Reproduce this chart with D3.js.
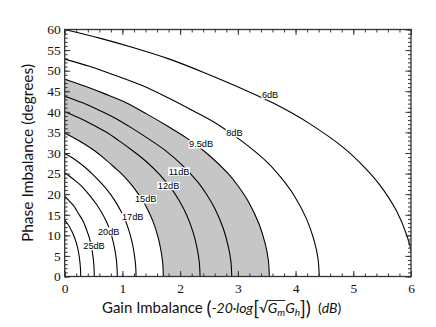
<!DOCTYPE html>
<html><head><meta charset="utf-8">
<script src="https://cdn.jsdelivr.net/npm/d3@7"></script>
<style>body{margin:0;background:#fff}</style>
</head><body>
<svg id="c" width="436" height="327"></svg>
<script>
// Contour curves: [gain imbalance dB, phase imbalance deg]
const curve6dB  = [[0,60],[0.605,57.9],[1.21,55.5],[1.815,52.8],[2.42,49.5],[3.025,45.9],[3.63,42.0],[4.235,37.2],[4.84,31.2],[5.14,27.3],[5.445,22.5],[5.75,15.9],[5.93,9.9],[6.02,5.0],[6.05,0]];
const curve8dB  = [[0,52.8],[0.441,51.0],[0.882,48.8],[1.323,46.5],[1.764,43.6],[2.205,40.4],[2.646,37.0],[3.087,32.7],[3.528,27.5],[3.749,24.0],[3.969,19.8],[4.19,14.0],[4.322,8.7],[4.388,4.4],[4.41,0]];
const curve9p5dB= [[0,47.9],[0.355,46.2],[0.709,44.3],[1.064,42.2],[1.418,39.5],[1.773,36.6],[2.128,33.5],[2.482,29.7],[2.837,24.9],[3.014,21.8],[3.191,18.0],[3.369,12.7],[3.475,7.9],[3.528,4.0],[3.546,0]];
const curve11dB = [[0,43.8],[0.289,42.3],[0.579,40.5],[0.868,38.5],[1.158,36.1],[1.447,33.5],[1.736,30.7],[2.026,27.2],[2.315,22.8],[2.46,19.9],[2.605,16.4],[2.749,11.6],[2.836,7.2],[2.88,3.6],[2.894,0]];
const curve12dB = [[0,40.0],[0.235,38.6],[0.469,37.0],[0.704,35.2],[0.938,33.0],[1.173,30.6],[1.407,28.0],[1.642,24.8],[1.876,20.8],[1.993,18.2],[2.111,15.0],[2.228,10.6],[2.298,6.6],[2.333,3.3],[2.345,0]];
const curve15dB = [[0,34.8],[0.171,33.6],[0.342,32.2],[0.513,30.6],[0.684,28.7],[0.855,26.6],[1.025,24.4],[1.196,21.6],[1.367,18.1],[1.453,15.8],[1.538,13.1],[1.624,9.2],[1.675,5.7],[1.70,2.9],[1.709,0]];
const curve17dB = [[0,29.9],[0.124,28.9],[0.247,27.7],[0.371,26.3],[0.494,24.7],[0.618,22.9],[0.742,20.9],[0.865,18.5],[0.989,15.5],[1.051,13.6],[1.112,11.2],[1.174,7.9],[1.211,4.9],[1.23,2.5],[1.236,0]];
const curve20dB = [[0,25.2],[0.091,24.3],[0.182,23.3],[0.274,22.2],[0.365,20.8],[0.456,19.3],[0.547,17.6],[0.638,15.6],[0.73,13.1],[0.775,11.5],[0.821,9.5],[0.866,6.7],[0.894,4.2],[0.907,2.1],[0.912,0]];
const curve25dB = [[0,19.5],[0.051,18.8],[0.103,18.0],[0.154,17.2],[0.205,16.1],[0.257,14.9],[0.308,13.7],[0.359,12.1],[0.41,10.1],[0.436,8.9],[0.462,7.3],[0.487,5.2],[0.503,3.2],[0.51,1.6],[0.513,0]];
const curveInner= [[0,13.7],[0.028,13.2],[0.055,12.7],[0.083,12.1],[0.111,11.3],[0.139,10.5],[0.166,9.6],[0.194,8.5],[0.222,7.1],[0.235,6.2],[0.249,5.1],[0.263,3.6],[0.271,2.3],[0.276,1.1],[0.277,0]];

const contourLabels = ["6dB","8dB","9.5dB","11dB","12dB","15dB","17dB","20dB","25dB"];
const labelX = [3.558,2.94,2.362,1.981,1.80,1.404,1.178,0.763,0.508];
const labelY = [44.1,34.8,32.1,25.5,22.0,18.75,14.45,10.9,7.4];

const xTicks = [0,1,2,3,4,5,6];
const yTicks = [0,5,10,15,20,25,30,35,40,45,50,55,60];

const svg = d3.select("#c");
const L = 64.7, R = 411, T = 29.5, B = 276.5;
const x = d3.scaleLinear().domain([0,6]).range([L,R]);
const y = d3.scaleLinear().domain([0,60]).range([B,T]);

svg.append("defs").append("clipPath").attr("id","plotclip")
  .append("rect").attr("x",L).attr("y",T).attr("width",R-L).attr("height",B-T);

const line = d3.line().x(d=>x(d[0])).y(d=>y(d[1])).curve(d3.curveCatmullRom.alpha(0.5));
const plot = svg.append("g").attr("clip-path","url(#plotclip)");

// gray band between 9.5dB and 15dB
const outer = line(curve9p5dB);
const inner = line(curve15dB.slice().reverse()).replace(/^M/,"L");
plot.append("path").attr("d", outer + inner + "Z").attr("fill","#c6c6c6").attr("stroke","none");

const curves = [curve6dB,curve8dB,curve9p5dB,curve11dB,curve12dB,curve15dB,curve17dB,curve20dB,curve25dB,curveInner];
plot.selectAll("path.curve").data(curves).enter().append("path")
  .attr("class","curve").attr("d", d=>line(d))
  .attr("fill","none").attr("stroke","#000").attr("stroke-width",1.1);

// labels with white background
const lg = svg.append("g");
contourLabels.forEach((t,i)=>{
  const g = lg.append("g");
  const tx = g.append("text").attr("x",x(labelX[i])).attr("y",y(labelY[i]))
    .attr("text-anchor","middle").attr("dominant-baseline","central")
    .attr("font-family","'Liberation Sans', Arial, sans-serif").attr("font-size",9.2)
    .attr("fill","#000").text(t);
  const bb = tx.node().getBBox();
  g.insert("rect","text").attr("x",bb.x-0.5).attr("y",bb.y+0.8).attr("width",bb.width+1).attr("height",bb.height-1.6).attr("fill","#fff");
});

// axes (inward ticks)
const tickFont = "'Liberation Serif', 'Times New Roman', serif";
function styleAxis(g){ g.select(".domain").remove(); g.selectAll("line").attr("stroke","#333"); }
const xMinor = d3.range(0, 6.0001, 0.2);
const yMinor = d3.range(0, 60.001, 1);

svg.append("g").attr("transform",`translate(0,${B})`)
  .call(d3.axisBottom(x).tickValues(xMinor).tickSizeInner(-3).tickSizeOuter(0).tickFormat("")).call(styleAxis);
svg.append("g").attr("transform",`translate(0,${B})`)
  .call(d3.axisBottom(x).tickValues(xTicks).tickSizeInner(-5.5).tickSizeOuter(0).tickPadding(6.5).tickFormat(d=>String(d)))
  .call(styleAxis)
  .call(g=>g.selectAll("text").attr("font-family",tickFont).attr("font-size",13.5).attr("fill","#111"));
svg.append("g").attr("transform",`translate(0,${T})`)
  .call(d3.axisTop(x).tickValues(xMinor).tickSizeInner(-3).tickSizeOuter(0).tickFormat("")).call(styleAxis);
svg.append("g").attr("transform",`translate(0,${T})`)
  .call(d3.axisTop(x).tickValues(xTicks).tickSizeInner(-5.5).tickSizeOuter(0).tickFormat("")).call(styleAxis);

svg.append("g").attr("transform",`translate(${L},0)`)
  .call(d3.axisLeft(y).tickValues(yMinor).tickSizeInner(-3).tickSizeOuter(0).tickFormat("")).call(styleAxis);
svg.append("g").attr("transform",`translate(${L},0)`)
  .call(d3.axisLeft(y).tickValues(yTicks).tickSizeInner(-5.5).tickSizeOuter(0).tickPadding(4).tickFormat(d=>String(d)))
  .call(styleAxis)
  .call(g=>g.selectAll("text").attr("font-family",tickFont).attr("font-size",13.5).attr("fill","#111"));
svg.append("g").attr("transform",`translate(${R},0)`)
  .call(d3.axisRight(y).tickValues(yMinor).tickSizeInner(-3).tickSizeOuter(0).tickFormat("")).call(styleAxis);
svg.append("g").attr("transform",`translate(${R},0)`)
  .call(d3.axisRight(y).tickValues(yTicks).tickSizeInner(-5.5).tickSizeOuter(0).tickFormat("")).call(styleAxis);

// frame
svg.append("rect").attr("x",L).attr("y",T).attr("width",R-L).attr("height",B-T)
  .attr("fill","none").attr("stroke","#333").attr("stroke-width",1.3);

// axis titles
const titleFont = "Lato, 'Open Sans', sans-serif";
svg.append("text").attr("transform","translate(33,153) rotate(-90)")
  .attr("text-anchor","middle").attr("font-family",titleFont).attr("font-size",15.5).attr("fill","#111")
  .text("Phase Imbalance (degrees)");

const xt = svg.append("text").attr("x",102).attr("y",313)
  .attr("font-family",titleFont).attr("font-size",15).attr("fill","#111");
xt.append("tspan").text("Gain Imbalance ");
xt.append("tspan").attr("font-size",19).attr("dy",1.5).text("(");
xt.append("tspan").attr("font-style","italic").attr("font-size",14).attr("dy",-1.5).text("-20·log");
xt.append("tspan").attr("font-size",19).attr("dy",1.5).text("[");
xt.append("tspan").attr("font-size",14).attr("dy",-1.5).text("√");
xt.append("tspan").attr("font-style","italic").attr("font-size",14).text("G");
xt.append("tspan").attr("font-style","italic").attr("font-size",10).attr("dy",2.5).text("m");
xt.append("tspan").attr("font-style","italic").attr("font-size",14).attr("dy",-2.5).text("G");
xt.append("tspan").attr("font-style","italic").attr("font-size",10).attr("dy",2.5).text("h");
xt.append("tspan").attr("font-size",19).attr("dy",-1).text("]");
xt.append("tspan").attr("font-size",19).text(")");
xt.append("tspan").attr("font-size",14).attr("dy",-1.5).text("\u00a0\u00a0(");
xt.append("tspan").attr("font-style","italic").attr("font-size",14).text("dB");
xt.append("tspan").attr("font-size",14).text(")");
// overline of the radical
const full = xt.text();
const iRad = full.indexOf("√");
const n = xt.node();
const x0 = n.getEndPositionOfChar(iRad).x - 1;
const x1 = n.getEndPositionOfChar(iRad+2).x;
svg.append("line").attr("x1",x0).attr("x2",x1).attr("y1",300.5).attr("y2",300.5).attr("stroke","#111").attr("stroke-width",0.9);
</script>
</body></html>
